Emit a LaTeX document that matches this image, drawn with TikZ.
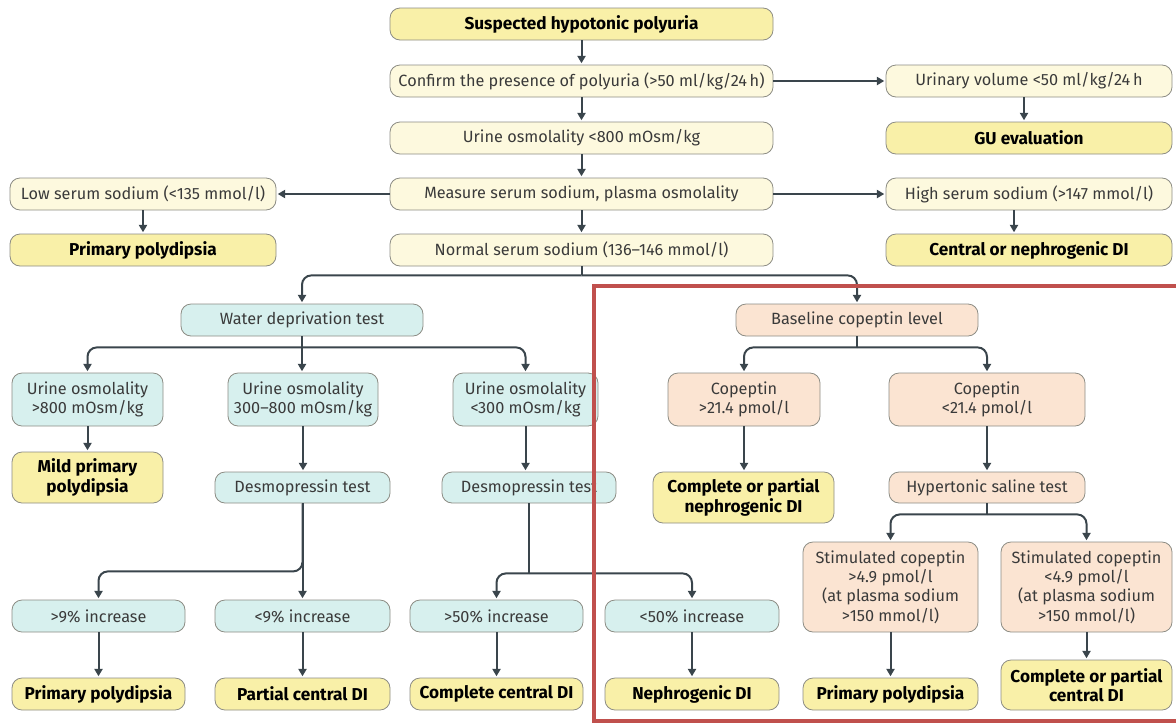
\documentclass[tikz,border=0pt]{standalone}
\usepackage{fontspec}
\setmainfont{Fira Sans}
\usetikzlibrary{arrows.meta,calc}
\definecolor{yel}{HTML}{F9F0A8}
\definecolor{cre}{HTML}{FDF9DE}
\definecolor{tea}{HTML}{D7F0EE}
\definecolor{pea}{HTML}{FBE4D2}
\definecolor{bord}{HTML}{8C8C84}
\definecolor{lnc}{HTML}{3A454C}
\definecolor{txt}{HTML}{3A3A3A}
\definecolor{redb}{HTML}{C0504D}
\newcommand\fs{\fontsize{12.2}{14.5}\selectfont}
\newcommand\fb{\fontsize{12.9}{14.5}\selectfont\bfseries}
\newcommand\bxn[7]{\node[#1, minimum width={(#5-#3)*0.75pt}, minimum height={(#6-#4)*0.75pt}] (#2) at ({(#3+#5)/2},{(#4+#6)/2}) {#7};}
\tikzset{
  base/.style={draw=bord, line width=0.6pt, rounded corners=7.5pt, inner sep=0pt, align=center, text=txt, font=\fs},
  res/.style={base, fill=yel, font=\fb, text=black},
  cr/.style={base, fill=cre},
  te/.style={base, fill=tea},
  pe/.style={base, fill=pea},
  arr/.style={draw=lnc, line width=1.5pt, -{Triangle[length=5.5pt,width=6pt]}, rounded corners=7pt, shorten >=1pt},
  stem/.style={draw=lnc, line width=1.5pt},
}
\begin{document}
\begin{tikzpicture}[x=0.75pt,y=-0.75pt]
\useasboundingbox (0,0) rectangle (1176,725);
% top column
\bxn{res}{top}{390}{8}{773}{40}{Suspected hypotonic polyuria}
\bxn{cr}{conf}{390}{65}{773}{97}{Confirm the presence of polyuria (>50 ml/kg/24\,h)}
\bxn{cr}{uo800}{390}{122}{773}{154}{Urine osmolality <800 mOsm/kg}
\bxn{cr}{meas}{390}{178}{773}{210}{Measure serum sodium, plasma osmolality}
\bxn{cr}{norm}{390}{234}{773}{266}{Normal serum sodium (136--146 mmol/l)}
\bxn{cr}{uvol}{886}{65}{1172}{97}{Urinary volume <50 ml/kg/24\,h}
\bxn{res}{gu}{886}{122}{1172}{154}{GU evaluation}
\bxn{cr}{high}{886}{178}{1172}{210}{High serum sodium (>147 mmol/l)}
\bxn{res}{cond}{886}{234}{1172}{266}{Central or nephrogenic DI}
\bxn{cr}{low}{10}{178}{276}{210}{Low serum sodium (<135 mmol/l)}
\bxn{res}{pp1}{10}{234}{276}{266}{Primary polydipsia}
% water deprivation branch
\bxn{te}{wdt}{181}{304}{423}{336}{Water deprivation test}
\bxn{te}{uoa}{12}{373}{163}{426}{Urine osmolality\\>800 mOsm/kg}
\bxn{te}{uob}{228}{373}{378}{426}{Urine osmolality\\300--800 mOsm/kg}
\bxn{te}{uoc}{453}{373}{598}{426}{Urine osmolality\\<300 mOsm/kg}
\bxn{res}{mild}{12}{452}{163}{503}{Mild primary\\polydipsia}
\bxn{te}{d1}{215}{472}{390}{503}{Desmopressin test}
\bxn{te}{d2}{442}{472}{616}{503}{Desmopressin test}
\bxn{te}{gt9}{12}{600}{185}{632}{>9\% increase}
\bxn{te}{lt9}{215}{600}{390}{632}{<9\% increase}
\bxn{te}{gt50}{410}{600}{583}{632}{>50\% increase}
\bxn{te}{lt50}{605}{600}{779}{632}{<50\% increase}
\bxn{res}{pp2}{12}{678}{185}{710}{Primary polydipsia}
\bxn{res}{pcdi}{215}{678}{390}{710}{Partial central DI}
\bxn{res}{ccdi}{410}{678}{583}{710}{Complete central DI}
\bxn{res}{ndi}{605}{678}{779}{710}{Nephrogenic DI}
% copeptin branch
\bxn{pe}{bcl}{736}{304}{978}{336}{Baseline copeptin level}
\bxn{pe}{cgt}{668}{373}{820}{426}{Copeptin\\>21.4 pmol/l}
\bxn{pe}{clt}{889}{373}{1085}{426}{Copeptin\\<21.4 pmol/l}
\bxn{res}{cpn}{653}{472}{834}{523}{Complete or partial\\nephrogenic DI}
\bxn{pe}{hst}{889}{472}{1085}{503}{Hypertonic saline test}
\bxn{pe}{sgt}{803}{542}{978}{632}{Stimulated copeptin\\>4.9 pmol/l\\(at plasma sodium\\>150 mmol/l)}
\bxn{pe}{slt}{1001}{542}{1172}{632}{Stimulated copeptin\\<4.9 pmol/l\\(at plasma sodium\\>150 mmol/l)}
\bxn{res}{pp3}{803}{678}{978}{710}{Primary polydipsia}
\bxn{res}{cpcd}{1001}{660}{1172}{710}{Complete or partial\\central DI}
% straight connectors
\draw[arr] (top.south) -- (top.south |- conf.north);
\draw[arr] (conf.south) -- (conf.south |- uo800.north);
\draw[arr] (uo800.south) -- (uo800.south |- meas.north);
\draw[arr] (meas.south) -- (meas.south |- norm.north);
\draw[arr] (conf.east) -- (conf.east -| uvol.west);
\draw[arr] (meas.west) -- (meas.west -| low.east);
\draw[arr] (meas.east) -- (meas.east -| high.west);
\draw[arr] ($(uvol.south)+(-5,0)$) -- ($(gu.north)+(-5,0)$);
\draw[arr] ($(high.south)+(-15,0)$) -- ($(cond.north)+(-15,0)$);
\draw[arr] (low.south) -- (low.south |- pp1.north);
\draw[arr] (uoa.south) -- (uoa.south |- mild.north);
\draw[arr] (uob.south) -- (uob.south |- d1.north);
\draw[arr] (uoc.south) -- (uoc.south |- d2.north);
\draw[arr] (gt9.south) -- (gt9.south |- pp2.north);
\draw[arr] (lt9.south) -- (lt9.south |- pcdi.north);
\draw[arr] (gt50.south) -- (gt50.south |- ccdi.north);
\draw[arr] (lt50.south) -- (lt50.south |- ndi.north);
\draw[arr] (cgt.south) -- (cgt.south |- cpn.north);
\draw[arr] (clt.south) -- (clt.south |- hst.north);
\draw[arr] (sgt.south) -- (sgt.south |- pp3.north);
\draw[arr] (slt.south) -- (slt.south |- cpcd.north);
% branches
\coordinate (jn) at ($(norm.south)+(0,9)$);
\draw[stem] (norm.south) -- (jn);
\draw[arr] (jn) -| (wdt.north);
\draw[arr] (jn) -| (bcl.north);
\coordinate (jw) at ($(wdt.south)+(0,11)$);
\draw[stem] (wdt.south) -- (jw);
\draw[arr] (jw) -| (uoa.north);
\draw[arr] (jw) -- (jw |- uob.north);
\draw[arr] (jw) -| (uoc.north);
\draw[arr] (d1.south) -- (d1.south |- lt9.north);
\draw[arr] (d1.south) -- ++(0,68) -| (gt9.north);
\coordinate (jd) at ($(d2.south)+(0,70)$);
\draw[stem] (d2.south) -- (jd);
\draw[arr] (jd) -| (gt50.north);
\draw[arr] (jd) -| (lt50.north);
\coordinate (jb) at ($(bcl.south)+(0,11)$);
\draw[stem] (bcl.south) -- (jb);
\draw[arr] (jb) -| (cgt.north);
\draw[arr] (jb) -| (clt.north);
\coordinate (jh) at ($(hst.south)+(0,11)$);
\draw[stem] (hst.south) -- (jh);
\draw[arr] (jh) -| (sgt.north);
\draw[arr] (jh) -| (slt.north);
% red frame
\draw[redb, line width=3.2pt] (594,286) rectangle (1190,721);
\end{tikzpicture}
\end{document}
